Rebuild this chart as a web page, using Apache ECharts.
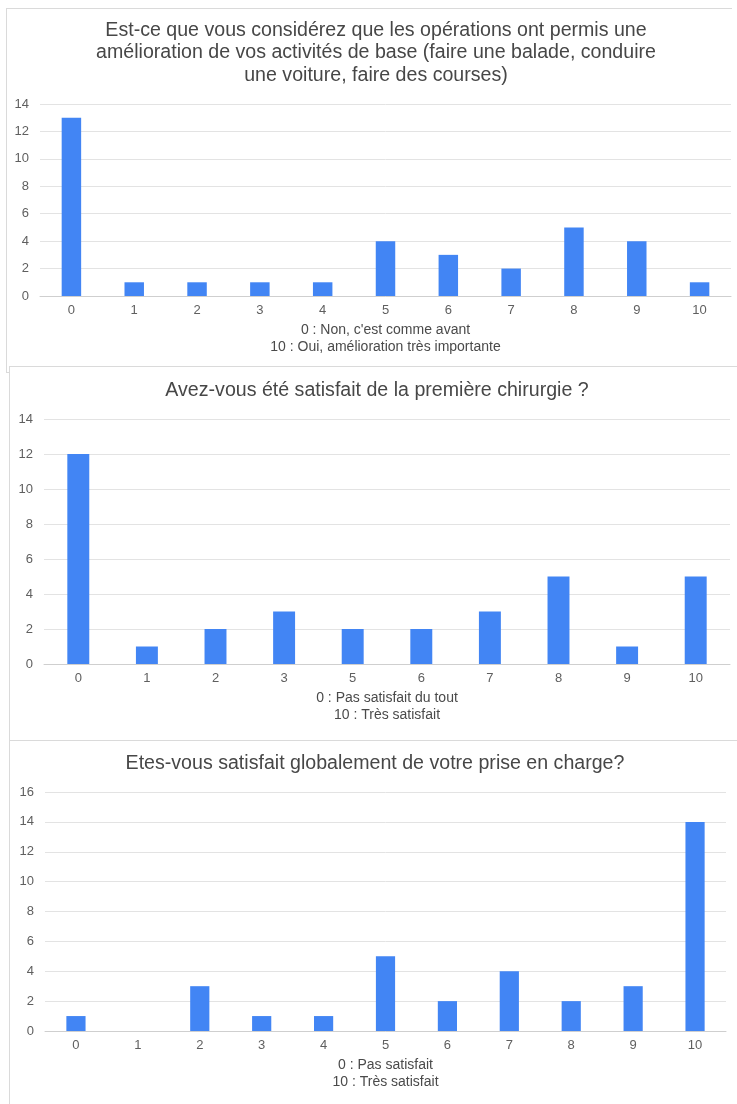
<!DOCTYPE html>
<html>
<head>
<meta charset="utf-8">
<script src="https://cdn.jsdelivr.net/npm/echarts@6/dist/echarts.min.js"></script>
<style>
html, body { margin: 0; padding: 0; background: #fff; overflow: hidden; }
.panel { position: absolute; background: #fff; border: 1px solid #dadada; border-right: none; box-sizing: border-box; }
#p1 { left: 6px; top: 8px; width: 726px; height: 365px; z-index: 1; }
#p2 { left: 9px; top: 366px; width: 728px; height: 380px; z-index: 2; }
#p3 { left: 9px; top: 740px; width: 728px; height: 370px; z-index: 3; }
#main { position: absolute; left: 0; top: 0; width: 737px; height: 1104px; z-index: 10; }
</style>
</head>
<body>
<div class="panel" id="p1"></div>
<div class="panel" id="p2"></div>
<div class="panel" id="p3"></div>
<div id="main"></div>
<script>
// data
var cats1 = ['0', '1', '2', '3', '4', '5', '6', '7', '8', '9', '10'];
var vals1 = [13, 1, 1, 1, 1, 4, 3, 2, 5, 4, 1];
var title1 = 'Est-ce que vous considérez que les opérations ont permis une\namélioration de vos activités de base (faire une balade, conduire\nune voiture, faire des courses)';
var name1 = "0 : Non, c'est comme avant\n10 : Oui, amélioration très importante";

var cats2 = ['0', '1', '2', '3', '5', '6', '7', '8', '9', '10'];
var vals2 = [12, 1, 2, 3, 2, 2, 3, 5, 1, 5];
var title2 = 'Avez-vous été satisfait de la première chirurgie ?';
var name2 = '0 : Pas satisfait du tout\n10 : Très satisfait';

var cats3 = ['0', '1', '2', '3', '4', '5', '6', '7', '8', '9', '10'];
var vals3 = [1, 0, 3, 1, 1, 5, 2, 4, 2, 3, 14];
var title3 = 'Etes-vous satisfait globalement de votre prise en charge?';
var name3 = '0 : Pas satisfait\n10 : Très satisfait';

var yMax = [14, 14, 16];

var myChart = echarts.init(document.getElementById('main'));

var FONT = '"Liberation Sans", Arial, sans-serif';
var BLUE = '#4285f4';

function makeTitle(text, x, top) {
    return {
        text: text,
        left: x,
        top: top,
        textAlign: 'center',
        padding: 0,
        textStyle: {
            fontFamily: FONT,
            fontSize: 19.6,
            fontWeight: 'normal',
            color: '#474747',
            lineHeight: 22.5
        }
    };
}

function makeX(idx, cats, name) {
    return {
        type: 'category',
        gridIndex: idx,
        data: cats,
        name: name,
        nameLocation: 'middle',
        nameGap: 25,
        nameTextStyle: {
            fontFamily: FONT,
            fontSize: 14,
            color: '#4a4a4a',
            lineHeight: 17.5
        },
        axisTick: { show: false },
        axisLine: { lineStyle: { color: '#cfcfcf', width: 1 } },
        axisLabel: {
            fontFamily: FONT,
            fontSize: 13,
            color: '#5f5f5f',
            margin: 8
        }
    };
}

function makeY(idx, max) {
    return {
        type: 'value',
        gridIndex: idx,
        min: 0,
        max: max,
        interval: 2,
        axisLine: { show: false },
        axisTick: { show: false },
        axisLabel: {
            fontFamily: FONT,
            fontSize: 13,
            color: '#5f5f5f',
            margin: 11
        },
        splitLine: { lineStyle: { color: '#e3e3e3', width: 1 } }
    };
}

function makeBar(idx, vals, w) {
    return {
        type: 'bar',
        xAxisIndex: idx,
        yAxisIndex: idx,
        data: vals,
        barWidth: w,
        itemStyle: { color: BLUE },
        animation: false
    };
}

var option = {
    animation: false,
    title: [
        makeTitle(title1, 376, 19),
        makeTitle(title2, 377, 379),
        makeTitle(title3, 375, 752)
    ],
    grid: [
        { left: 40, right: 6, top: 104, height: 192 },
        { left: 44, right: 7, top: 419, height: 245 },
        { left: 45, right: 11, top: 792, height: 239 }
    ],
    xAxis: [
        makeX(0, cats1, name1),
        makeX(1, cats2, name2),
        makeX(2, cats3, name3)
    ],
    yAxis: [
        makeY(0, yMax[0]),
        makeY(1, yMax[1]),
        makeY(2, yMax[2])
    ],
    series: [
        makeBar(0, vals1, '31%'),
        makeBar(1, vals2, '32%'),
        makeBar(2, vals3, '31%')
    ]
};

myChart.setOption(option);

window.onresize = function() {
    myChart.resize();
};
</script>
</body>
</html>
